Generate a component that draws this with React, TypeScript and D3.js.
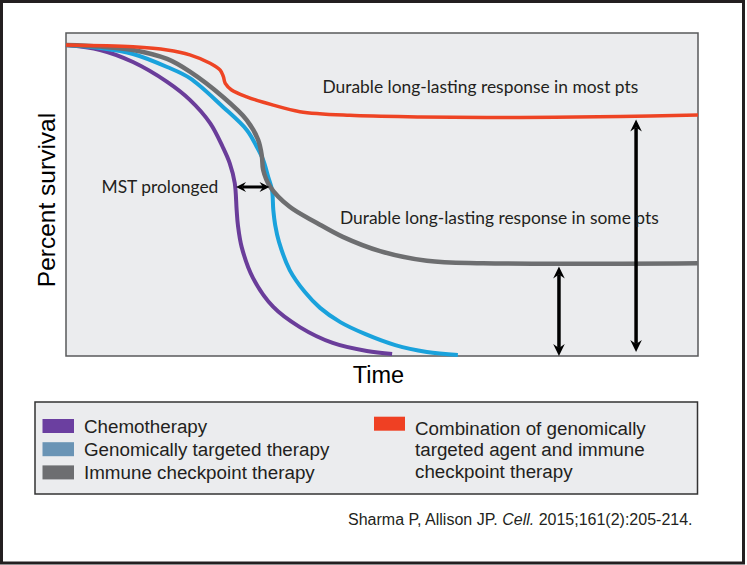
import React from "react";
import * as d3 from "d3";

// ---- Data (time 0-100, percent survival 0-100) ----
const chemoTime = [0, 5.4, 10.6, 16.0, 19.6, 22.8, 24.8, 25.9, 26.7, 27.0, 27.2, 27.8, 29.6, 32.8, 37.0, 42.2, 47.6, 51.6];
const chemoSurv = [100, 98.4, 94.5, 88.1, 82.3, 74.8, 67.1, 61.9, 55.5, 46.8, 41.9, 34.8, 24.8, 15.5, 9.0, 3.9, 1.3, 0.3];

const targetedTime = [0, 5.4, 10.6, 16.0, 19.6, 24.8, 28.6, 30.2, 31.2, 32.0, 32.6, 32.8, 33.1, 33.7, 35.4, 37.8, 40.2, 43.4, 47.3, 52.1, 57.1, 62.0];
const targetedSurv = [100, 99.0, 97.1, 92.9, 89.3, 80.1, 72.6, 67.1, 62.9, 57.4, 53.2, 46.8, 41.9, 36.5, 27.4, 20.3, 15.2, 10.6, 6.8, 3.2, 1.0, 0];

const immuneTime = [0, 5.4, 10.6, 16.0, 19.6, 24.8, 28.6, 30.4, 31.0, 31.2, 32.3, 35.4, 39.7, 43.8, 49.7, 57.1, 66.0, 100];
const immuneSurv = [100, 99.5, 98.4, 95.5, 91.4, 83.3, 75.8, 69.4, 64.0, 59.7, 54.3, 47.8, 42.6, 38.1, 33.5, 30.4, 29.6, 29.6];

const comboTime = [0, 10.6, 16.0, 19.6, 22.8, 24.4, 24.9, 25.2, 26.2, 28.6, 32.8, 37.0, 44.9, 56.0, 71.8, 87.7, 100];
const comboSurv = [100, 99.4, 98.4, 96.8, 94.1, 91.9, 89.8, 87.6, 85.5, 83.3, 80.6, 78.5, 77.3, 76.8, 76.6, 76.9, 77.4];

const seriesNames = ["Chemotherapy", "Genomically targeted therapy", "Immune checkpoint therapy"];
const comboLegendLines = ["Combination of genomically", "targeted agent and immune", "checkpoint therapy"];

// annotation arrows
const mstArrow = { t0: 26.9, t1: 32.2, s: 54.2 };
const plateauArrows = [
  { t: 78, s0: -0.3, s1: 29.5 },
  { t: 90.2, s0: 1.0, s1: 76.9 },
];

const labelMost = "Durable long-lasting response in most pts";
const labelSome = "Durable long-lasting response in some pts";
const labelMST = "MST prolonged";
const xTitle = "Time";
const yTitle = "Percent survival";
const citationA = "Sharma P, Allison JP. ";
const citationB = "Cell.";
const citationC = " 2015;161(2):205-214.";

// ---- Styles ----
const colPurple = "#6a3d9a";
const colBlue = "#1aa2dc";
const colGray = "#6d6e70";
const colRed = "#ee4424";
const swPurple = "#6b3fa0";
const swBlue = "#6a94b5";
const swGray = "#6d6e71";
const swRed = "#ef4023";

const W = 747;
const H = 565;
const plot = { left: 66, right: 698, top: 33, bottom: 356 };

export default function App() {
  const x = d3.scaleLinear().domain([0, 100]).range([plot.left, plot.right]);
  const y = d3.scaleLinear().domain([0, 100]).range([355, 45]);

  const line = d3
    .line<[number, number]>()
    .x((d) => x(d[0]))
    .y((d) => y(d[1]))
    .curve(d3.curveCatmullRom.alpha(0.5));

  const zip = (a: number[], b: number[]) => a.map((v, i) => [v, b[i]] as [number, number]);

  const series = [
    { pts: zip(chemoTime, chemoSurv), color: colPurple, w: 4 },
    { pts: zip(targetedTime, targetedSurv), color: colBlue, w: 4 },
    { pts: zip(immuneTime, immuneSurv), color: colGray, w: 4.5 },
    { pts: zip(comboTime, comboSurv), color: colRed, w: 3.5 },
  ];

  const vArrow = (xp: number, yTop: number, yBot: number, key: string) => {
    const hl = 12;
    const hw = 5.8;
    const notch = 4;
    return (
      <g key={key}>
        <line x1={xp} x2={xp} y1={yTop + hl - notch} y2={yBot - hl + notch} stroke="#000" strokeWidth={3.5} />
        <path d={`M${xp},${yTop} L${xp + hw},${yTop + hl} L${xp},${yTop + hl - notch} L${xp - hw},${yTop + hl} Z`} fill="#000" />
        <path d={`M${xp},${yBot} L${xp + hw},${yBot - hl} L${xp},${yBot - hl + notch} L${xp - hw},${yBot - hl} Z`} fill="#000" />
      </g>
    );
  };

  const hArrow = (x0: number, x1: number, yp: number) => {
    const hl = 10;
    const hw = 5;
    const notch = 3.5;
    return (
      <g>
        <line x1={x0 + hl - notch} x2={x1 - hl + notch} y1={yp} y2={yp} stroke="#000" strokeWidth={3} />
        <path d={`M${x0},${yp} L${x0 + hl},${yp - hw} L${x0 + hl - notch},${yp} L${x0 + hl},${yp + hw} Z`} fill="#000" />
        <path d={`M${x1},${yp} L${x1 - hl},${yp - hw} L${x1 - hl + notch},${yp} L${x1 - hl},${yp + hw} Z`} fill="#000" />
      </g>
    );
  };

  const sans = "'Liberation Sans', Arial, sans-serif";
  const annot = "Lato, 'Open Sans', sans-serif";

  const swatches = [swPurple, swBlue, swGray];

  return (
    <svg
      width={W}
      height={H}
      style={{ position: "absolute", left: 0, top: 0, background: "#fff" }}
    >
      <rect x={1.5} y={1.5} width={742} height={561.5} fill="#fff" stroke="#231f20" strokeWidth={3} />

      {/* plot area */}
      <rect
        x={plot.left}
        y={plot.top}
        width={plot.right - plot.left}
        height={plot.bottom - plot.top}
        fill="#ebecee"
        stroke="#58595b"
        strokeWidth={1.5}
      />

      {series.map((s, i) => (
        <path key={i} d={line(s.pts) || ""} fill="none" stroke={s.color} strokeWidth={s.w} strokeLinejoin="round" />
      ))}

      {plateauArrows.map((a, i) => vArrow(x(a.t), y(a.s1) + 3, y(a.s0), "a" + i))}
      {hArrow(x(mstArrow.t0), x(mstArrow.t1), y(mstArrow.s))}

      <text x={322.5} y={93} fontFamily={annot} fontSize={17.4} fill="#231f20">{labelMost}</text>
      <text x={340} y={224} fontFamily={annot} fontSize={17.4} fill="#231f20">{labelSome}</text>
      <text x={101.5} y={192.5} fontFamily={annot} fontSize={17.4} fill="#231f20">{labelMST}</text>

      {/* axis titles */}
      <text x={378.5} y={383} textAnchor="middle" fontFamily={sans} fontSize={23.5} fill="#000">{xTitle}</text>
      <text transform="translate(55,200) rotate(-90)" textAnchor="middle" fontFamily={sans} fontSize={24.5} fill="#000">{yTitle}</text>

      {/* legend */}
      <rect x={35} y={402} width={662.5} height={92} fill="#ebecee" stroke="#333" strokeWidth={1.5} />
      {seriesNames.map((n, i) => (
        <g key={n}>
          <rect x={42.5} y={419 + i * 23.2} width={31.5} height={14} fill={swatches[i]} />
          <text x={84} y={432.5 + i * 23.2} fontFamily={sans} fontSize={18.8} fill="#231f20">{n}</text>
        </g>
      ))}
      <rect x={374} y={416.7} width={31} height={14} fill={swRed} />
      {comboLegendLines.map((l, i) => (
        <text key={l} x={415} y={434.5 + i * 21.5} fontFamily={sans} fontSize={18.8} fill="#231f20">{l}</text>
      ))}

      {/* citation */}
      <text x={348} y={525} fontFamily={sans} fontSize={16} fill="#231f20">
        {citationA}
        <tspan fontStyle="italic">{citationB}</tspan>
        {citationC}
      </text>
    </svg>
  );
}
